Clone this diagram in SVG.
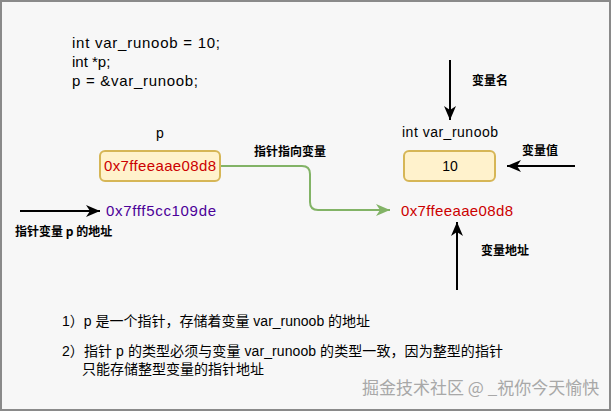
<svg xmlns="http://www.w3.org/2000/svg" width="611" height="411" viewBox="0 0 611 411">
<style>
.code{font-family:"Liberation Sans","Noto Sans CJK SC",sans-serif;font-size:15px;fill:#000}
.lbl{font-family:"Liberation Sans","Noto Sans CJK SC",sans-serif;font-size:14px;fill:#000}
.cn{font-family:"Noto Sans CJK SC",sans-serif;font-size:12px;font-weight:bold;fill:#000}
.note{font-family:"Liberation Sans","Noto Sans CJK SC",sans-serif;font-size:14px;fill:#000}
.hex{font-family:"Liberation Sans",sans-serif;font-size:15px}
.box{fill:#fff2cc;stroke:#d6b656;stroke-width:2}
.ln{fill:none;stroke:#000;stroke-width:2}
.gr{fill:none;stroke:#82b366;stroke-width:2}
.wm{font-family:"Noto Sans CJK SC",sans-serif;font-size:17px;fill:#a8a8a8}
</style>
<defs>
<marker id="ab" markerUnits="userSpaceOnUse" markerWidth="14" markerHeight="12" viewBox="0 0 14 12" refX="14" refY="6" orient="auto">
<path d="M0,0 L14,6 L0,12 L4,6 z" fill="#000"/>
</marker>
<marker id="ag" markerUnits="userSpaceOnUse" markerWidth="14" markerHeight="12" viewBox="0 0 14 12" refX="14" refY="6" orient="auto">
<path d="M0,0 L14,6 L0,12 L4,6 z" fill="#82b366"/>
</marker>
</defs>
<rect x="1" y="1" width="609" height="409" fill="#f7f7f7" stroke="#8a8a8a" stroke-width="2"/>
<g id="code">
<text class="code" x="72" y="48" textLength="148">int var_runoob = 10;</text>
<text class="code" x="72" y="67">int *p;</text>
<text class="code" x="72" y="86" textLength="126">p = &amp;var_runoob;</text>
</g>
<g id="connectors">
<path class="ln" d="M450,60 V120" marker-end="url(#ab)"/>
<path class="ln" d="M575,166 H507" marker-end="url(#ab)"/>
<path class="ln" d="M457,290 V222" marker-end="url(#ab)"/>
<path class="ln" d="M20,211 H100" marker-end="url(#ab)"/>
<path class="gr" d="M221,166 H302 Q310,166 310,174 V202 Q310,210 318,210 H390" marker-end="url(#ag)"/>
</g>
<g id="node-p">
<text class="lbl" x="160" y="138" text-anchor="middle">p</text>
<rect class="box" x="100" y="151" width="120" height="30" rx="5"/>
<text class="hex" x="160" y="171" text-anchor="middle" fill="#cc0000" textLength="112">0x7ffeeaae08d8</text>
</g>
<g id="node-var">
<text class="lbl" x="450" y="137" text-anchor="middle" textLength="96">int var_runoob</text>
<rect class="box" x="404" y="151" width="91" height="30" rx="5"/>
<text class="lbl" x="450" y="171" text-anchor="middle">10</text>
</g>
<g id="labels">
<text class="cn" x="254" y="156" textLength="72">指针指向变量</text>
<text class="cn" x="472" y="85">变量名</text>
<text class="cn" x="522" y="155">变量值</text>
<text class="cn" x="481" y="255">变量地址</text>
<text class="cn" x="15" y="236">指针变量 p 的地址</text>
<text class="hex" x="106" y="216" fill="#4c0099" textLength="110">0x7fff5cc109de</text>
<text class="hex" x="401" y="216" fill="#cc0000" textLength="112">0x7ffeeaae08d8</text>
</g>
<g id="notes">
<text class="note" x="62" y="326">1）p 是一个指针，存储着变量 var_runoob 的地址</text>
<text class="note" x="62" y="356" textLength="441">2）指针 p 的类型必须与变量 var_runoob 的类型一致，因为整型的指针</text>
<text class="note" x="82" y="374">只能存储整型变量的指针地址</text>
</g>
<text class="wm" x="362" y="394">掘金技术社区 @ _祝你今天愉快</text>
</svg>
